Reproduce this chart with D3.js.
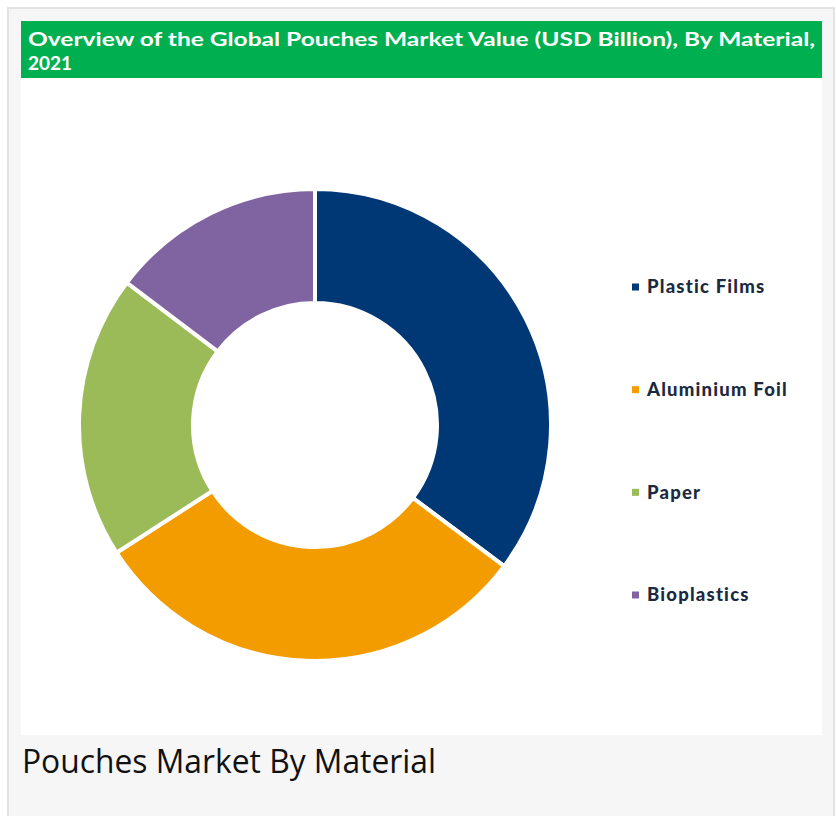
<!DOCTYPE html>
<html><head><meta charset="utf-8">
<script src="https://cdn.jsdelivr.net/npm/d3@7"></script>
<style>
html,body{margin:0;padding:0;background:#fff;}
svg{display:block;}
</style></head>
<body>
<svg id="chart" width="836" height="816"></svg>
<script>
const categories = ["Plastic Films", "Aluminium Foil", "Paper", "Bioplastics"];
const values = [35.2, 30.7, 19.4, 14.7];
const colors = ["#003876", "#f39c00", "#9bbb59", "#8064a2"];
const titleLines = ["Overview of the Global Pouches Market Value (USD Billion), By Material,", "2021"];
const caption = "Pouches Market By Material";

const svg = d3.select("#chart");
// outer card
svg.append("rect").attr("x", 8).attr("y", 8).attr("width", 826).attr("height", 812)
  .attr("fill", "#f6f6f6").attr("stroke", "#e3e3e3").attr("stroke-width", 2);
// white panel
svg.append("rect").attr("x", 21).attr("y", 21).attr("width", 801).attr("height", 714).attr("fill", "#ffffff");
// title bar
svg.append("rect").attr("x", 21).attr("y", 21).attr("width", 801).attr("height", 57).attr("fill", "#00b050");
svg.append("text").attr("x", 28).attr("y", 46).attr("fill", "#fff")
  .attr("font-family", "Lato, 'Open Sans', sans-serif").attr("font-weight", "bold").attr("font-size", 19)
  .attr("textLength", 787).attr("lengthAdjust", "spacingAndGlyphs").text(titleLines[0]);
svg.append("text").attr("x", 28).attr("y", 70).attr("fill", "#fff")
  .attr("font-family", "Lato, 'Open Sans', sans-serif").attr("font-weight", "bold").attr("font-size", 19)
  .text(titleLines[1]);

// donut
const cx = 315, cy = 425, R = 236, r = 122;
const pie = d3.pie().sort(null).value(d => d)(values);
const arc = d3.arc().innerRadius(r).outerRadius(R);
const g = svg.append("g").attr("transform", `translate(${cx},${cy})`);
g.selectAll("path").data(pie).join("path")
  .attr("d", arc).attr("fill", (d, i) => colors[i])
  .attr("stroke", "#fff").attr("stroke-width", 4).attr("stroke-linejoin", "miter");

// legend
const ly = d3.scalePoint().domain(categories).range([287, 595]);
const lg = svg.append("g");
categories.forEach((c, i) => {
  const y = ly(c);
  lg.append("rect").attr("x", 632).attr("y", y - 3.5).attr("width", 7).attr("height", 7).attr("fill", colors[i]);
  lg.append("text").attr("x", 647).attr("y", y).attr("dy", "0.35em")
    .attr("font-family", "Lato, 'Open Sans', sans-serif").attr("font-weight", "900").attr("font-size", 18.5)
    .attr("letter-spacing", 1.2)
    .attr("fill", "#1c2a3f").text(c);
});

// caption
svg.append("text").attr("x", 22).attr("y", 773).attr("fill", "#111")
  .attr("font-family", "'Open Sans', sans-serif").attr("font-size", 32)
  .attr("textLength", 414).attr("lengthAdjust", "spacingAndGlyphs").text(caption);
</script>
</body></html>
